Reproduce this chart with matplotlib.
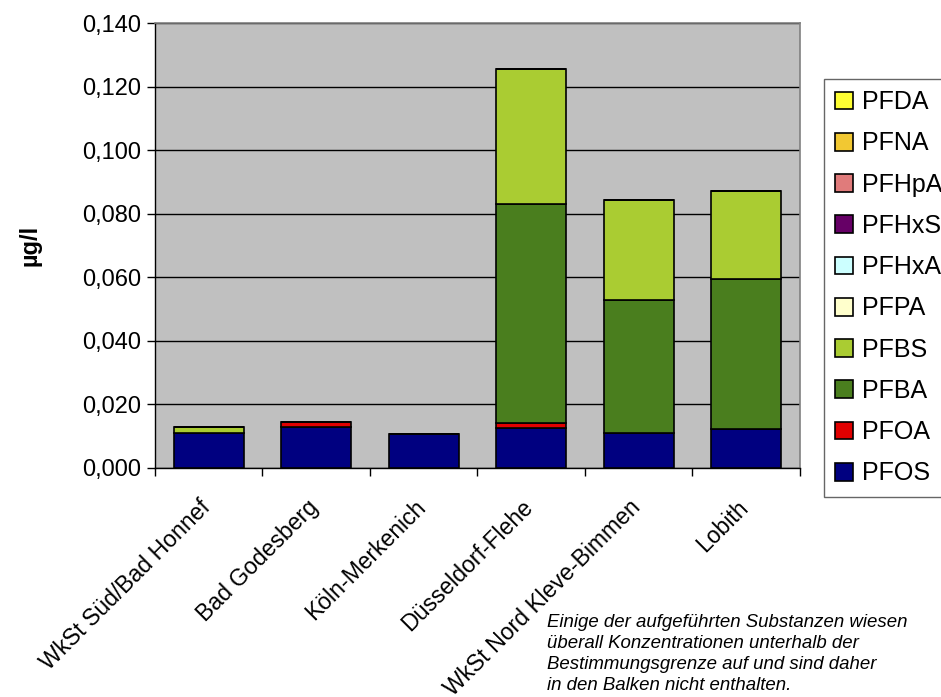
import numpy as np
import matplotlib
matplotlib.use('Agg')
import matplotlib.pyplot as plt
from matplotlib.ticker import MultipleLocator, FuncFormatter, FixedLocator
from matplotlib.transforms import ScaledTranslation

plt.rcParams['font.family'] = ['Liberation Sans', 'DejaVu Sans']

# Messstellen entlang des Rheins
stations = ['WkSt Süd/Bad Honnef', 'Bad Godesberg', 'Köln-Merkenich',
            'Düsseldorf-Flehe', 'WkSt Nord Kleve-Bimmen', 'Lobith']

# Konzentrationen in µg/l (Substanzen unterhalb der BG = 0)
substances = ['PFOS', 'PFOA', 'PFBA', 'PFBS', 'PFPA', 'PFHxA',
              'PFHxS', 'PFHpA', 'PFNA', 'PFDA']
pfos  = [0.0110, 0.0128, 0.0106, 0.0127, 0.0111, 0.0122]
pfoa  = [0.0, 0.0017, 0.0, 0.0013, 0.0, 0.0]
pfba  = [0.0, 0.0, 0.0, 0.0691, 0.0416, 0.0473]
pfbs  = [0.0018, 0.0, 0.0, 0.0423, 0.0316, 0.0276]
pfpa  = [0.0] * 6
pfhxa = [0.0] * 6
pfhxs = [0.0] * 6
pfhpa = [0.0] * 6
pfna  = [0.0] * 6
pfda  = [0.0] * 6
series = [pfos, pfoa, pfba, pfbs, pfpa, pfhxa, pfhxs, pfhpa, pfna, pfda]

colors = ['#000080', '#e00000', '#4a7e1e', '#aacc32', '#ffffcc',
          '#ccffff', '#660066', '#e07b7b', '#f2c832', '#ffff33']

fig = plt.figure(figsize=(9.41, 6.97), dpi=100)
ax = fig.add_axes([0.1647, 0.3286, 0.6853, 0.6384])
ax.set_facecolor('#c0c0c0')

x = np.arange(len(stations))
bottom = np.zeros(len(stations))
handles = []
for name, vals, col in zip(substances, series, colors):
    vals = np.array(vals)
    h = ax.bar(x, vals, width=0.65, bottom=bottom, color=col,
               edgecolor='black', linewidth=1.2, label=name, zorder=3)
    handles.append(h)
    bottom += vals

ax.set_xlim(-0.5, len(stations) - 0.5)
ax.set_ylim(0, 0.140)
ax.yaxis.set_major_locator(MultipleLocator(0.020))
ax.yaxis.set_major_formatter(FuncFormatter(lambda v, p: f'{v:.3f}'.replace('.', ',')))
ax.yaxis.grid(True, color='black', linewidth=1.0, zorder=1)
ax.set_axisbelow(True)

# Kategorien-Beschriftung, Ticks zwischen den Kategorien
ax.set_xticks(x)
ax.set_xticklabels(stations, rotation=45, ha='right', va='top',
                   rotation_mode='anchor', fontsize=16.6)
ax.tick_params(axis='x', which='major', length=0, pad=20)
shift = ScaledTranslation(-0.10, 0, fig.dpi_scale_trans)
for lbl in ax.get_xticklabels():
    lbl.set_transform(lbl.get_transform() + shift)
ax.xaxis.set_minor_locator(FixedLocator(np.arange(-0.5, len(stations), 1.0)))
ax.tick_params(axis='x', which='minor', length=6, width=1, direction='out')
ax.tick_params(axis='y', length=6, width=1, direction='out', labelsize=17, pad=4)

for s in ['top', 'right']:
    ax.spines[s].set_color('#808080')
    ax.spines[s].set_linewidth(1.2)
for s in ['left', 'bottom']:
    ax.spines[s].set_color('black')
    ax.spines[s].set_linewidth(1.0)

fig.text(0.032, 0.648, 'µg/l', rotation=90, fontsize=17, fontweight='bold',
         ha='center', va='center')

leg = fig.legend(handles[::-1], substances[::-1], loc='upper left',
                 bbox_to_anchor=(0.8757, 0.8867), fontsize=18, frameon=True,
                 fancybox=False, shadow=False, handlelength=0.72, handleheight=0.72,
                 handletextpad=0.35, labelspacing=0.69, borderpad=0.45,
                 borderaxespad=0)
frame = leg.get_frame()
frame.set_edgecolor('#404040')
frame.set_linewidth(1.0)
frame.set_facecolor('white')

fig.text(0.581, 0.119,
         'Einige der aufgeführten Substanzen wiesen\n'
         'überall Konzentrationen unterhalb der\n'
         'Bestimmungsgrenze auf und sind daher\n'
         'in den Balken nicht enthalten.',
         fontsize=13.4, fontstyle='italic', ha='left', va='top', linespacing=1.3)

fig.savefig('out.png', dpi=100)
